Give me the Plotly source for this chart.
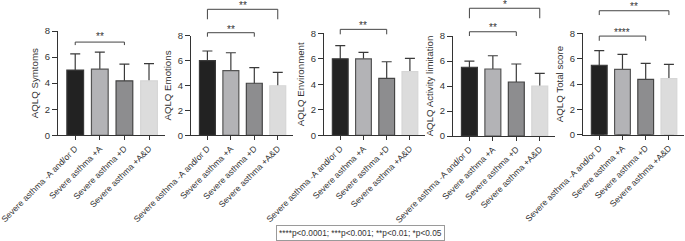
import plotly.graph_objects as go

W, H = 685, 241

categories = ["Severe asthma -A and/or D", "Severe asthma +A", "Severe asthma +D", "Severe asthma +A&D"]

titles = ["AQLQ Symtoms", "AQLQ Emotions", "AQLQ Environment", "AQLQ Activity limitation", "AQLQ Total score"]

symptoms_mean = [5.0, 5.08, 4.18, 4.18]
symptoms_sd = [1.25, 1.30, 1.28, 1.32]
emotions_mean = [6.0, 5.19, 4.18, 3.98]
emotions_sd = [0.77, 1.44, 1.25, 1.08]
environment_mean = [6.0, 6.0, 4.47, 5.0]
environment_sd = [1.03, 0.50, 1.30, 1.04]
activity_mean = [5.5, 5.36, 4.32, 4.0]
activity_sd = [0.49, 1.06, 1.44, 1.01]
total_mean = [5.48, 5.16, 4.37, 4.42]
total_sd = [1.15, 1.18, 1.26, 1.13]

means = [symptoms_mean, emotions_mean, environment_mean, activity_mean, total_mean]
sds = [symptoms_sd, emotions_sd, environment_sd, activity_sd, total_sd]

# significance comparisons: (from index, to index, label)
sig_symptoms = [(0, 2, "**")]
sig_emotions = [(0, 2, "**"), (0, 3, "**")]
sig_environment = [(0, 2, "**")]
sig_activity = [(0, 2, "**"), (0, 3, "*")]
sig_total = [(0, 2, "****"), (0, 3, "**")]
sigs = [sig_symptoms, sig_emotions, sig_environment, sig_activity, sig_total]

tick_vals = [0, 2, 4, 6, 8]
tick_text = ["0", "2", "4", "6", "8"]

# ---- styling / layout (pixels) ----
panels = [
    dict(x0=58, x1=165, y0=135.3, y8=31.0),
    dict(x0=191, x1=293, y0=135.3, y8=35.7),
    dict(x0=324, x1=425, y0=135.3, y8=33.3),
    dict(x0=453, x1=555, y0=136.0, y8=36.0),
    dict(x0=583, x1=684, y0=134.7, y8=33.3),
]
# bracket levels in data units: (bar level, tick bottom, star level)
bracket_levels = [
    [(7.15, 6.92, 7.72)],
    [(8.24, 7.92, 8.62), (10.12, 9.32, 10.55)],
    [(8.31, 7.92, 8.78)],
    [(8.34, 8.0, 8.83), (10.22, 9.42, 10.68)],
    [(7.78, 7.41, 8.26), (9.78, 9.44, 10.26)],
]

bar_colors = ["#222222", "#b3b3b6", "#8d8d8f", "#dcdcdc"]
bar_lines = ["#3a3a3a", "#555555", "#444444", "#d6d6d6"]
axis_color = "#333333"
TXT = "#333333"
FONT = "Liberation Sans, Arial, sans-serif"

fig = go.Figure()
shapes, annotations = [], []

for i, p in enumerate(panels):
    n = i + 1
    sfx = "" if n == 1 else str(n)
    xa, ya = f"x{sfx}", f"y{sfx}"
    # error bars (upper) from hidden bars, covered by the visible bars below
    fig.add_trace(go.Bar(
        x=categories, y=means[i], xaxis=xa, yaxis=ya, width=0.68,
        marker=dict(color="rgba(0,0,0,0)", line=dict(width=0)),
        error_y=dict(type="data", symmetric=False, array=sds[i], arrayminus=means[i],
                     color="#3a3a3a", thickness=1.2, width=5),
        showlegend=False, hoverinfo="skip"))
    fig.add_trace(go.Bar(
        x=categories, y=means[i], xaxis=xa, yaxis=ya, width=0.68,
        marker=dict(color=bar_colors, line=dict(color=bar_lines, width=1.2)),
        showlegend=False))

    d0 = (H - p["y0"]) / H
    d1 = (H - p["y8"]) / H
    to_paper = lambda v, d0=d0, d1=d1: d0 + v / 8.0 * (d1 - d0)

    fig.update_layout(**{
        f"xaxis{sfx}": dict(domain=[p["x0"] / W, p["x1"] / W], anchor=ya, type="category",
                            range=[-0.7, 3.65], showline=True, linecolor=axis_color, linewidth=1.2,
                            ticks="outside", ticklen=4, tickcolor=axis_color, tickwidth=1.2,
                            tickangle=-45, tickfont=dict(size=8.6, color=TXT, family=FONT),
                            showgrid=False, zeroline=False, automargin=False, fixedrange=True),
        f"yaxis{sfx}": dict(domain=[d0, d1], anchor=xa, range=[0, 8],
                            tickmode="array", tickvals=tick_vals, ticktext=tick_text,
                            showticklabels=True, ticklabelposition="outside",
                            showline=True, linecolor=axis_color, linewidth=1.2,
                            ticks="outside", ticklen=5, tickcolor=axis_color, tickwidth=1.2,
                            tickfont=dict(size=9.5, color=TXT, family=FONT),
                            title=dict(text=titles[i], standoff=4,
                                       font=dict(size=9.7, color=TXT, family=FONT)),
                            showgrid=False, zeroline=False, automargin=False, fixedrange=True),
    })

    for (a, b, lab), (lvl, bot, star) in zip(sigs[i], bracket_levels[i]):
        line = dict(color="#444444", width=1)
        shapes.append(dict(type="line", xref=xa, yref="paper", x0=a, x1=b,
                           y0=to_paper(lvl), y1=to_paper(lvl), line=line))
        shapes.append(dict(type="line", xref=xa, yref="paper", x0=a, x1=a,
                           y0=to_paper(lvl), y1=to_paper(bot), line=line))
        shapes.append(dict(type="line", xref=xa, yref="paper", x0=b, x1=b,
                           y0=to_paper(lvl), y1=to_paper(bot), line=line))
        annotations.append(dict(text=lab, xref=xa, yref="paper", x=(a + b) / 2,
                                y=to_paper(star), showarrow=False, xanchor="center",
                                yanchor="middle", yshift=-2,
                                font=dict(size=10, color=TXT, family=FONT)))

annotations.append(dict(
    text="****p<0.0001; ***p<0.001; **p<0.01; *p<0.05", xref="paper", yref="paper",
    x=361 / W, y=(H - 233) / H, showarrow=False, xanchor="center", yanchor="middle",
    bordercolor="#9a9a9a", borderwidth=1, borderpad=2, bgcolor="white",
    font=dict(size=8.3, color=TXT, family=FONT)))

fig.update_layout(
    template="none",
    width=W, height=H, margin=dict(l=0, r=0, t=0, b=0, pad=0),
    paper_bgcolor="white", plot_bgcolor="white", barmode="overlay",
    shapes=shapes, annotations=annotations, showlegend=False,
    font=dict(family=FONT, color=TXT),
)

fig.write_html("out.html", config={"displayModeBar": False},
               post_script="document.body.style.margin='0';document.body.style.padding='0';")
